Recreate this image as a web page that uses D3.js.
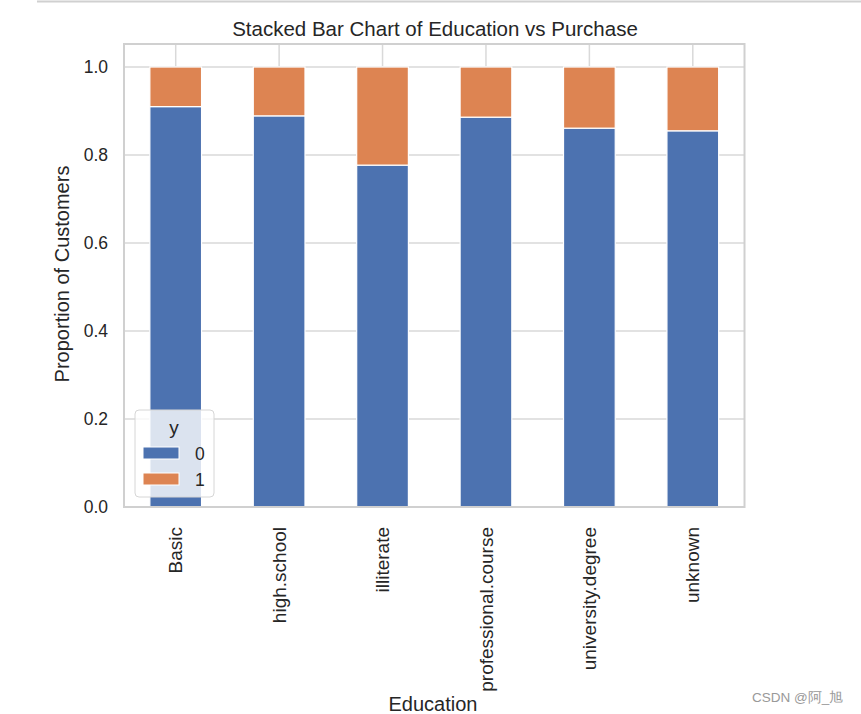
<!DOCTYPE html>
<html><head><meta charset="utf-8">
<script src="https://cdn.jsdelivr.net/npm/d3@7"></script>
<style>body{margin:0;background:#fff;} text{font-family:"Liberation Sans",Arial,sans-serif;}</style>
</head><body>
<svg id="c" width="861" height="714"></svg>
<script>
const categories = ["Basic","high.school","illiterate","professional.course","university.degree","unknown"];
const series0 = [0.910, 0.889, 0.777, 0.886, 0.861, 0.855];
const series1 = [0.090, 0.111, 0.223, 0.114, 0.139, 0.145];
const seriesNames = ["0","1"];
const colors = ["#4c72b0","#dd8452"];
const yTicks = [0.0,0.2,0.4,0.6,0.8,1.0];

const svg = d3.select("#c");
const L=124, R=744.5, T=44, B=507;
const x = d3.scaleBand().domain(categories).range([L,R]).paddingInner(0.5).paddingOuter(0.25);
const y = d3.scaleLinear().domain([0,1.0523]).range([B,T]);
const grid = "#d9d9d9";
const ink = "#262626";

// top page line
svg.append("line").attr("x1",37).attr("x2",861).attr("y1",1.5).attr("y2",1.5).attr("stroke","#d0d0d0").attr("stroke-width",2);

// grid
const g = svg.append("g");
g.selectAll(".hg").data(yTicks).join("line").attr("x1",L).attr("x2",R)
 .attr("y1",d=>y(d)).attr("y2",d=>y(d)).attr("stroke",grid).attr("stroke-width",1.5);
g.selectAll(".vg").data(categories).join("line").attr("y1",T).attr("y2",B)
 .attr("x1",d=>x(d)+x.bandwidth()/2).attr("x2",d=>x(d)+x.bandwidth()/2).attr("stroke",grid).attr("stroke-width",1.5);

// bars
const data = categories.map((c,i)=>({cat:c,"0":series0[i],"1":series1[i]}));
const stack = d3.stack().keys(seriesNames)(data);
svg.append("g").selectAll("g").data(stack).join("g").attr("fill",(d,i)=>colors[i])
 .selectAll("rect").data(d=>d).join("rect")
 .attr("x",d=>x(d.data.cat)).attr("width",x.bandwidth())
 .attr("y",d=>y(d[1])).attr("height",d=>y(d[0])-y(d[1]))
 .attr("stroke","#fff").attr("stroke-width",1.2);

// frame
svg.append("rect").attr("x",L).attr("y",T).attr("width",R-L).attr("height",B-T)
 .attr("fill","none").attr("stroke","#d0d0d0").attr("stroke-width",2);

// y axis
const ya = svg.append("g").attr("transform",`translate(${L},0)`)
 .call(d3.axisLeft(y).tickValues(yTicks).tickFormat(d3.format(".1f")).tickSize(0).tickPadding(16));
ya.select(".domain").remove();
ya.selectAll("text").attr("font-size",17.5).attr("fill",ink).attr("font-family","Liberation Sans, Arial, sans-serif");

// x axis
const xa = svg.append("g").attr("transform",`translate(0,${B})`)
 .call(d3.axisBottom(x).tickSize(0));
xa.select(".domain").remove();
xa.selectAll("text").attr("font-size",19).attr("fill",ink).attr("font-family","Liberation Sans, Arial, sans-serif")
 .attr("transform","rotate(-90)").attr("text-anchor","end").attr("dy","0.35em").attr("dx",-20).attr("y",0).attr("x",0);

// title & labels
svg.append("text").attr("x",435).attr("y",36).attr("text-anchor","middle").attr("font-size",20.5).attr("fill",ink).text("Stacked Bar Chart of Education vs Purchase");
svg.append("text").attr("x",433).attr("y",711).attr("text-anchor","middle").attr("font-size",20).attr("fill",ink).text("Education");
svg.append("text").attr("transform","translate(69,274) rotate(-90)").attr("text-anchor","middle").attr("font-size",20).attr("fill",ink).text("Proportion of Customers");

// legend
const lg = svg.append("g");
lg.append("rect").attr("x",135).attr("y",410).attr("width",79).attr("height",87).attr("rx",4)
 .attr("fill","rgba(255,255,255,0.8)").attr("stroke","#d6d6d6").attr("stroke-width",1);
lg.append("text").attr("x",174).attr("y",434).attr("text-anchor","middle").attr("font-size",19).attr("fill",ink).text("y");
seriesNames.forEach((s,i)=>{
  const yy = 453 + i*26;
  lg.append("rect").attr("x",143).attr("y",yy-6).attr("width",36).attr("height",12).attr("fill",colors[i]).attr("stroke","#fff").attr("stroke-width",1);
  lg.append("text").attr("x",195).attr("y",yy+7).attr("font-size",17.5).attr("fill",ink).text(s);
});

// watermark
svg.append("text").attr("x",752).attr("y",702).attr("font-size",13.5).attr("fill","#999").attr("font-family","Noto Sans CJK SC, sans-serif").text("CSDN @阿_旭");
</script>
</body></html>
